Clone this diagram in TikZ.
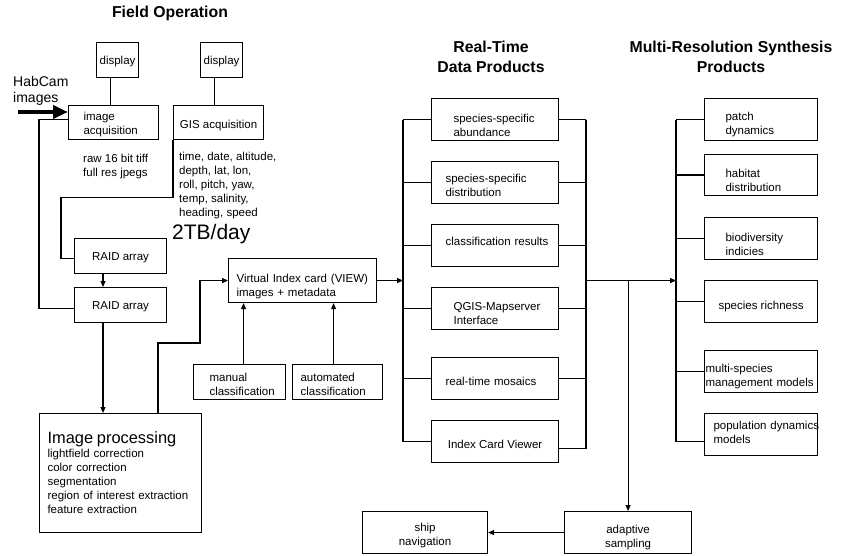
\documentclass[tikz,border=0pt]{standalone}
\usepackage{fontspec}
\setmainfont{Liberation Sans}
\usetikzlibrary{arrows.meta}
\newcommand\fsn{\fontsize{11.5}{14}\selectfont}
\tikzset{
 bx/.style={draw, line width=1.1pt, inner sep=0pt, anchor=north west, font=\fsn},
 lt/.style 2 args={text width=#1pt, align=left, execute at begin node={\leftskip=#2pt}},
 ct/.style={align=center},
 th/.style={text height=#1pt},
 ln/.style={line width=1.1pt},
 arr/.style={line width=1.1pt, -{Triangle[length=6pt,width=5pt]}},
 txt/.style={inner sep=0pt, anchor=north west, align=left, font=\fsn},
 ttl/.style={font=\fontsize{15.8}{20}\selectfont\bfseries, align=center, inner sep=0pt},
}
\begin{document}
\begin{tikzpicture}[x=1pt,y=-1pt]
\fill[white] (0,0) rectangle (845,556);
\useasboundingbox (0,0) rectangle (845,556);

% titles
\node[ttl] (t1) at (170,13) {Field Operation};
\node[ttl] (t2) at (491,57) {Real-Time\\Data Products};
\node[ttl] (t3) at (731,57) {Multi-Resolution Synthesis\\Products};

% field operation
\node[bx, ct, th=11.4, minimum width=42pt, minimum height=35pt] (disp1) at (96,42) {display};
\node[bx, ct, th=11.4, minimum width=42pt, minimum height=35pt] (disp2) at (200,42) {display};
\node[bx, lt={90}{15}, th=12.4, minimum height=34pt] (imgacq) at (68,105) {image\\acquisition};
\node[bx, ct, th=14.4, minimum width=90pt, minimum height=34pt] (gisacq) at (173,105) {GIS acquisition};
\node[bx, ct, th=11.4, minimum width=92pt, minimum height=35pt] (raid1) at (74,238) {RAID array};
\node[bx, ct, th=11.4, minimum width=92pt, minimum height=35pt] (raid2) at (74,287) {RAID array};
\node[bx, lt={162}{8}, minimum height=119pt] (imgproc) at (39,413)
 {{\fontsize{16.4}{18}\selectfont Image processing}\\lightfield correction\\color correction\\segmentation\\region of interest extraction\\feature extraction};
\node[bx, lt={148}{8}, th=20.4, minimum height=44pt] (view) at (228,258) {Virtual Index card (VIEW)\\images + metadata};
\node[bx, lt={92}{16}, th=12.4, minimum height=35pt] (manual) at (193,364) {manual\\classification};
\node[bx, lt={90}{8}, th=12.4, minimum height=35pt] (auto) at (292,364) {automated\\classification};

\node[inner sep=0pt, anchor=north west, align=left, font=\fontsize{14}{16}\selectfont] (habcam) at (13,76.5) {HabCam\\images};
\coordinate (habst) at (18,112);
\node[txt] (rawtxt) at (83,153.5) {raw 16 bit tiff\\full res jpegs};
\node[txt] (gistxt) at (179,152) {time, date, altitude,\\depth, lat, lon,\\roll, pitch, yaw,\\temp, salinity,\\heading, speed};
\node[inner sep=0pt, anchor=west, font=\fontsize{21}{24}\selectfont] (tb) at (172,234) {2TB/day};

% real-time products
\node[bx, lt={127}{22}, th=19.4, minimum height=42pt] (rt1) at (431,98) {species-specific\\abundance};
\node[bx, lt={127}{14}, th=14.4, minimum height=42pt] (rt2) at (431,161) {species-specific\\distribution};
\node[bx, lt={127}{14}, text height=8.4pt, text depth=8pt, minimum height=42pt] (rt3) at (431,224) {classification results};
\node[bx, lt={127}{22}, th=18.4, minimum height=42pt] (rt4) at (431,287) {QGIS-Mapserver\\Interface};
\node[bx, lt={127}{14}, th=14.4, minimum height=42pt] (rt5) at (431,357) {real-time mosaics};
\node[bx, ct, th=14.4, minimum width=127pt, minimum height=42pt] (rt6) at (431,420) {Index Card Viewer};

% multi-resolution products
\node[bx, lt={113}{21}, th=18.4, minimum height=42pt] (m1) at (704,98) {patch\\dynamics};
\node[bx, lt={113}{21}, th=19.4, minimum height=41pt] (m2) at (704,154) {habitat\\distribution};
\node[bx, lt={113}{21}, th=19.4, minimum height=42pt] (m3) at (704,217) {biodiversity\\indicies};
\node[bx, ct, th=18.4, minimum width=113pt, minimum height=42pt] (m4) at (704,280) {species richness};
\node[bx, lt={113}{1}, th=18.4, minimum height=42pt] (m5) at (704,350) {multi-species\\management models};
\node[bx, lt={113}{9}, text depth=18pt, minimum height=42pt] (m6) at (704,413) {\mbox{population dynamics}\\models};

% bottom
\node[bx, ct, th=32.4, minimum width=127pt, minimum height=42pt] (adapt) at (564,511) {adaptive\\sampling};
\node[bx, ct, th=28.4, minimum width=125pt, minimum height=42pt] (ship) at (362,511) {ship\\navigation};

\coordinate (lbus) at (403,0);
\coordinate (rbus) at (586,0);
\coordinate (mbus) at (676,0);

% connectors, field operation
\draw[ln] ([xshift=-7pt]disp1.south) -- ([xshift=-7pt]disp1.south |- imgacq.north);
\draw[ln] ([xshift=-7pt]disp2.south) -- ([xshift=-7pt]disp2.south |- gisacq.north);
\draw[line width=4pt, -{Triangle[length=15pt,width=13pt]}] (habst) -- (imgacq.west |- habst);
\draw[ln] ([yshift=3pt]imgacq.west) -- ++(-29,0) |- ([yshift=-3.5pt]raid2.west);
\draw[ln] (gisacq.south west) -- ++(0,57) -- ++(-112,0) |- ([yshift=-2.5pt]raid1.west);
\draw[arr] (raid1.south -| 103,0) -- (raid2.north -| 103,0);
\draw[arr] (raid2.south -| 103,0) -- (imgproc.north -| 103,0);
\draw[arr] (imgproc.north -| 158,0) |- (200,343) |- (view.west);
\draw[arr] ([xshift=4pt]manual.north) -- ([xshift=4pt]manual.north |- view.south);
\draw[arr] ([xshift=-4pt]auto.north) -- ([xshift=-4pt]auto.north |- view.south);

% real-time buses
\draw[arr] (view.east) -- (view.east -| lbus);
\draw[ln] (rt1.west -| lbus) -- (rt6.west -| lbus);
\foreach \n in {rt1,rt2,rt3,rt4,rt5,rt6} \draw[ln] (\n.west) -- (\n.west -| lbus);
\draw[ln] (rt1.east -| rbus) -- ([yshift=-7pt]rt6.east -| rbus);
\foreach \n in {rt1,rt2,rt3,rt4,rt5} \draw[ln] (\n.east) -- (\n.east -| rbus);
\draw[ln] ([yshift=-7pt]rt6.east) -- ([yshift=-7pt]rt6.east -| rbus);
\draw[arr] (view.east -| rbus) -- (view.east -| mbus);
\draw[arr] (view.east -| adapt.north) -- (adapt.north);
\draw[arr] (adapt.west) -- (ship.east);

% multi-resolution bus
\draw[ln] (m1.west -| mbus) -- ([yshift=-7pt]m6.west -| mbus);
\foreach \n in {m1,m2,m3,m4,m5} \draw[ln] (\n.west) -- (\n.west -| mbus);
\draw[ln] ([yshift=-7pt]m6.west) -- ([yshift=-7pt]m6.west -| mbus);
\end{tikzpicture}
\end{document}
